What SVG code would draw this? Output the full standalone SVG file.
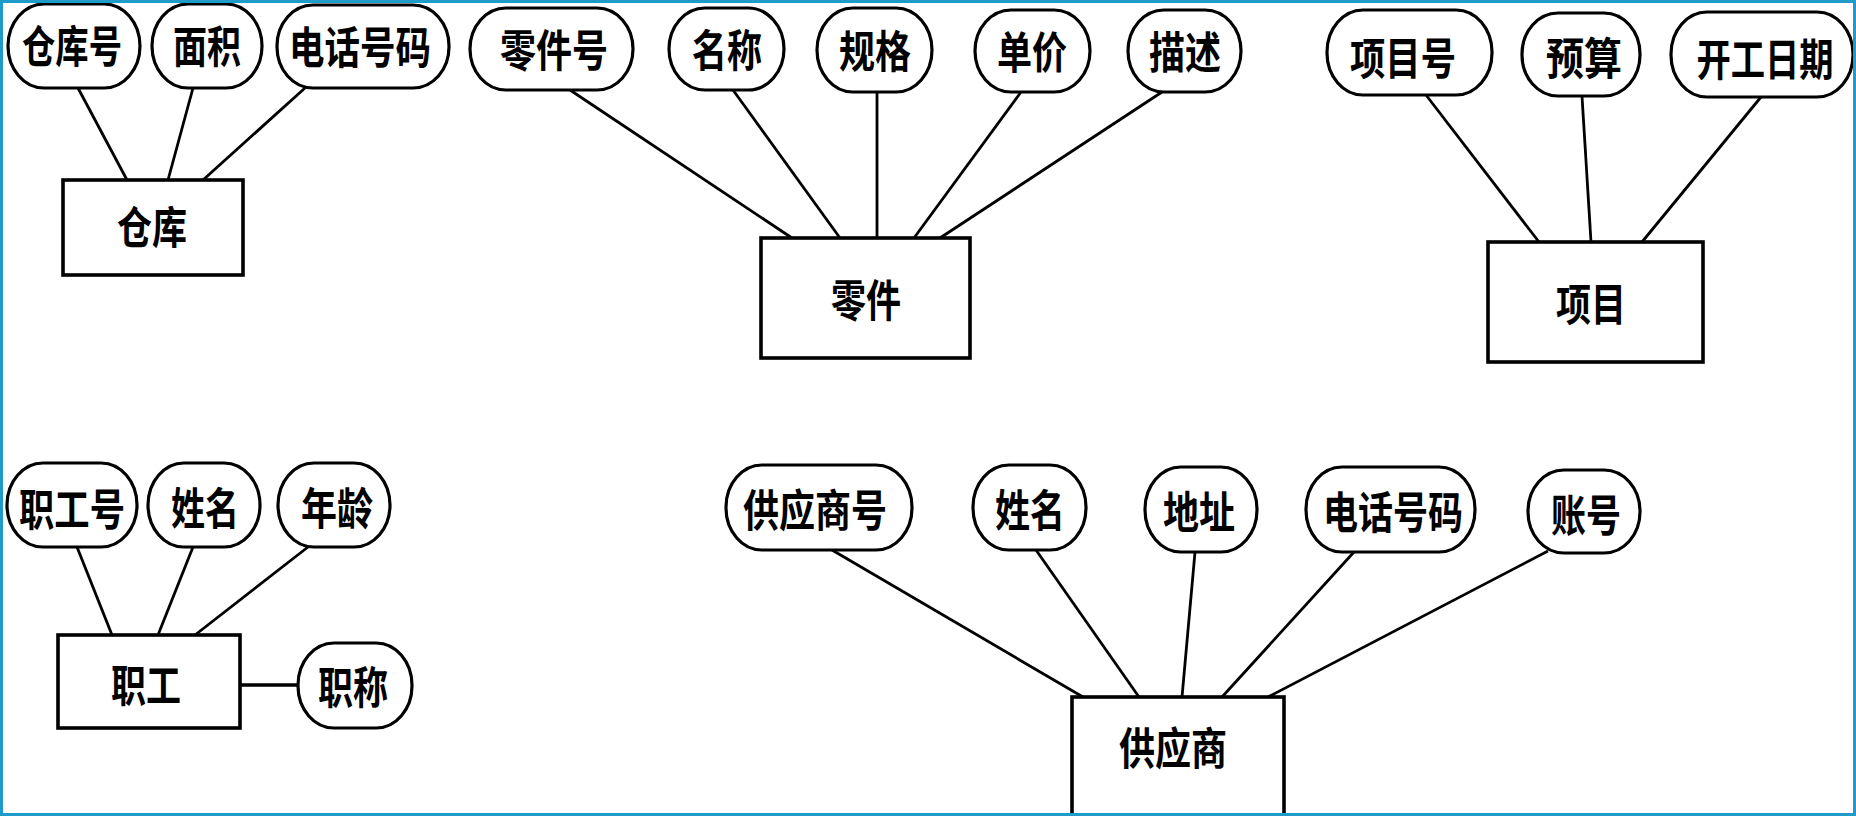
<svg xmlns="http://www.w3.org/2000/svg" width="1856" height="816" viewBox="0 0 1856 816">
<style>
.attr{fill:#fff;stroke:#000;stroke-width:3.2}
.ent{fill:#fff;stroke:#000;stroke-width:3.6}
.t{font-family:"Noto Sans CJK SC","Noto Sans CJK TC",sans-serif;font-size:44px;font-weight:700;fill:#000;text-anchor:middle;dominant-baseline:central}
#connectors line{stroke:#000;stroke-width:2.8}
</style>
<rect x="0" y="0" width="1856" height="816" fill="#fff"/>
<g id="connectors">
<line x1="78" y1="88" x2="127" y2="180"/>
<line x1="193" y1="88" x2="168" y2="180"/>
<line x1="305" y1="88" x2="203" y2="180"/>
<line x1="570" y1="90" x2="792" y2="238"/>
<line x1="733" y1="90" x2="840" y2="238"/>
<line x1="877" y1="92" x2="877" y2="238"/>
<line x1="1021" y1="92" x2="914" y2="238"/>
<line x1="1162" y1="92" x2="940" y2="238"/>
<line x1="1426" y1="95" x2="1539" y2="242"/>
<line x1="1582" y1="96" x2="1591" y2="242"/>
<line x1="1761" y1="97" x2="1642" y2="242"/>
<line x1="77" y1="547" x2="112" y2="635"/>
<line x1="193" y1="547" x2="158" y2="635"/>
<line x1="308" y1="547" x2="195" y2="635"/>
<line x1="240" y1="685" x2="298" y2="685" style="stroke-width:3.5"/>
<line x1="832" y1="550" x2="1083" y2="697"/>
<line x1="1036" y1="550" x2="1139" y2="697"/>
<line x1="1195" y1="552" x2="1182" y2="697"/>
<line x1="1354" y1="552" x2="1222" y2="697"/>
<line x1="1548" y1="551" x2="1268" y2="697"/>
</g>
<g id="warehouse"><rect class="ent" x="63" y="180" width="180" height="95"/><text class="t" x="152" y="225" textLength="70" lengthAdjust="spacingAndGlyphs">仓库</text></g>
<g id="a-whno"><rect class="attr" x="8" y="4" width="132" height="84" rx="36" ry="42"/><text class="t" x="72" y="44" textLength="100" lengthAdjust="spacingAndGlyphs">仓库号</text></g>
<g id="a-area"><rect class="attr" x="152" y="4" width="110" height="84" rx="36" ry="42"/><text class="t" x="207" y="44" textLength="68" lengthAdjust="spacingAndGlyphs">面积</text></g>
<g id="a-whphone"><rect class="attr" x="277" y="5" width="172" height="83" rx="36" ry="41"/><text class="t" x="360" y="45" textLength="142" lengthAdjust="spacingAndGlyphs">电话号码</text></g>

<g id="part"><rect class="ent" x="761" y="238" width="209" height="120"/><text class="t" x="866" y="298" textLength="70" lengthAdjust="spacingAndGlyphs">零件</text></g>
<g id="a-partno"><rect class="attr" x="470" y="8" width="163" height="82" rx="36" ry="41"/><text class="t" x="554" y="48" textLength="108" lengthAdjust="spacingAndGlyphs">零件号</text></g>
<g id="a-pname"><rect class="attr" x="669" y="8" width="115" height="82" rx="36" ry="41"/><text class="t" x="727" y="48" textLength="70" lengthAdjust="spacingAndGlyphs">名称</text></g>
<g id="a-spec"><rect class="attr" x="817" y="8" width="115" height="84" rx="36" ry="42"/><text class="t" x="875" y="49" textLength="72" lengthAdjust="spacingAndGlyphs">规格</text></g>
<g id="a-price"><rect class="attr" x="975" y="10" width="115" height="82" rx="36" ry="41"/><text class="t" x="1032" y="50" textLength="70" lengthAdjust="spacingAndGlyphs">单价</text></g>
<g id="a-desc"><rect class="attr" x="1128" y="10" width="113" height="82" rx="36" ry="41"/><text class="t" x="1185" y="50" textLength="72" lengthAdjust="spacingAndGlyphs">描述</text></g>

<g id="project"><rect class="ent" x="1488" y="242" width="215" height="120"/><text class="t" x="1591" y="302" textLength="70" lengthAdjust="spacingAndGlyphs">项目</text></g>
<g id="a-projno"><rect class="attr" x="1327" y="10" width="165" height="85" rx="36" ry="42"/><text class="t" x="1403" y="56" textLength="106" lengthAdjust="spacingAndGlyphs">项目号</text></g>
<g id="a-budget"><rect class="attr" x="1522" y="13" width="118" height="83" rx="36" ry="41"/><text class="t" x="1584" y="56" textLength="76" lengthAdjust="spacingAndGlyphs">预算</text></g>
<g id="a-start"><rect class="attr" x="1671" y="12" width="182" height="85" rx="36" ry="42"/><text class="t" transform="translate(1765,56) scale(0.78,1)" x="0" y="0">开工日期</text></g>

<g id="staff"><rect class="ent" x="58" y="635" width="182" height="93"/><text class="t" x="146" y="683" textLength="70" lengthAdjust="spacingAndGlyphs">职工</text></g>
<g id="a-staffno"><rect class="attr" x="7" y="463" width="130" height="84" rx="36" ry="42"/><text class="t" x="72" y="507" textLength="106" lengthAdjust="spacingAndGlyphs">职工号</text></g>
<g id="a-sname"><rect class="attr" x="148" y="463" width="112" height="84" rx="36" ry="42"/><text class="t" x="205" y="506" textLength="68" lengthAdjust="spacingAndGlyphs">姓名</text></g>
<g id="a-age"><rect class="attr" x="278" y="463" width="112" height="84" rx="36" ry="42"/><text class="t" x="337" y="506" textLength="72" lengthAdjust="spacingAndGlyphs">年龄</text></g>
<g id="a-title"><rect class="attr" x="298" y="643" width="114" height="85" rx="36" ry="42"/><text class="t" x="353" y="685" textLength="70" lengthAdjust="spacingAndGlyphs">职称</text></g>

<g id="supplier"><rect class="ent" x="1072" y="697" width="212" height="125"/><text class="t" x="1173" y="746" textLength="108" lengthAdjust="spacingAndGlyphs">供应商</text></g>
<g id="a-supno"><rect class="attr" x="726" y="465" width="186" height="85" rx="36" ry="42"/><text class="t" x="815" y="508" textLength="144" lengthAdjust="spacingAndGlyphs">供应商号</text></g>
<g id="a-supname"><rect class="attr" x="973" y="465" width="113" height="85" rx="36" ry="42"/><text class="t" x="1030" y="508" textLength="70" lengthAdjust="spacingAndGlyphs">姓名</text></g>
<g id="a-addr"><rect class="attr" x="1145" y="467" width="112" height="85" rx="36" ry="42"/><text class="t" x="1199" y="510" textLength="72" lengthAdjust="spacingAndGlyphs">地址</text></g>
<g id="a-supphone"><rect class="attr" x="1306" y="467" width="169" height="85" rx="36" ry="42"/><text class="t" x="1393" y="510" textLength="140" lengthAdjust="spacingAndGlyphs">电话号码</text></g>
<g id="a-account"><rect class="attr" x="1528" y="470" width="112" height="83" rx="36" ry="41"/><text class="t" x="1586" y="513" textLength="70" lengthAdjust="spacingAndGlyphs">账号</text></g>

<rect x="1.5" y="1.5" width="1853" height="813" fill="none" stroke="#1e9bc8" stroke-width="3"/>
</svg>
